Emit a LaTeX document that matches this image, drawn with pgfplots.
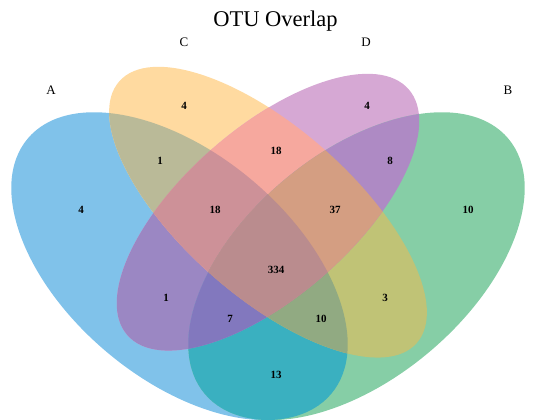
\documentclass[border=0pt]{standalone}
\usepackage{pgfplots}
\pgfplotsset{compat=1.18}
\usepackage{fontspec}
\setmainfont{Liberation Serif}
\definecolor{cA}{RGB}{128,194,234}
\definecolor{cC}{RGB}{255,218,160}
\definecolor{cD}{RGB}{214,168,212}
\definecolor{cB}{RGB}{134,206,166}
\definecolor{cAC}{RGB}{186,186,152}
\definecolor{cAD}{RGB}{155,135,195}
\definecolor{cAB}{RGB}{58,176,192}
\definecolor{cCD}{RGB}{246,168,158}
\definecolor{cCB}{RGB}{192,195,118}
\definecolor{cDB}{RGB}{174,138,196}
\definecolor{cACD}{RGB}{205,145,152}
\definecolor{cACB}{RGB}{145,170,130}
\definecolor{cADB}{RGB}{130,120,190}
\definecolor{cCDB}{RGB}{212,158,130}
\definecolor{cACDB}{RGB}{186,140,142}
\newcommand\pA{[rotate around={-40.04:(axis cs:179.5,153.8)}] (axis cs:179.5,153.8) ellipse [x radius=198.3pt, y radius=112.5pt]}
\newcommand\pB{[rotate around={40.04:(axis cs:356.5,153.8)}] (axis cs:356.5,153.8) ellipse [x radius=198.3pt, y radius=112.5pt]}
\newcommand\pC{[rotate around={-41.33:(axis cs:268,207.8)}] (axis cs:268,207.8) ellipse [x radius=198.1pt, y radius=84.4pt]}
\newcommand\pD{[rotate around={41.15:(axis cs:268,207.8)}] (axis cs:268,207.8) ellipse [x radius=186.8pt, y radius=84.4pt]}
\pgfplotstableread{
x y lab
81 210 4
184 314 4
367 314 4
468 210 10
160 259 1
276 269 18
390 259 8
215 210 18
335 210 37
276 150 334
166 122 1
385 122 3
230 101 7
321 101 10
276 45 13
}\counts
\pgfplotstableread{
x y lab
51 330 A
184 378 C
366 378 D
508 330 B
}\cats
\begin{document}
\begin{tikzpicture}
\begin{axis}[
  x=1pt, y=1pt,
  xmin=0, xmax=536, ymin=0, ymax=420,
  hide axis,
  clip=true,
]
\path (axis cs:0,0) rectangle (axis cs:536,420);
% singles
\fill[cA] \pA;
\fill[cC] \pC;
\fill[cD] \pD;
\fill[cB] \pB;
% pairs
\begin{scope}\clip \pA; \fill[cAC] \pC; \end{scope}
\begin{scope}\clip \pA; \fill[cAD] \pD; \end{scope}
\begin{scope}\clip \pA; \fill[cAB] \pB; \end{scope}
\begin{scope}\clip \pC; \fill[cCD] \pD; \end{scope}
\begin{scope}\clip \pC; \fill[cCB] \pB; \end{scope}
\begin{scope}\clip \pD; \fill[cDB] \pB; \end{scope}
% triples
\begin{scope}\clip \pA; \clip \pC; \fill[cACD] \pD; \end{scope}
\begin{scope}\clip \pA; \clip \pC; \fill[cACB] \pB; \end{scope}
\begin{scope}\clip \pA; \clip \pD; \fill[cADB] \pB; \end{scope}
\begin{scope}\clip \pC; \clip \pD; \fill[cCDB] \pB; \end{scope}
% quadruple
\begin{scope}\clip \pA; \clip \pC; \clip \pD; \fill[cACDB] \pB; \end{scope}
\addplot[mark=none, draw=none, nodes near coords, point meta=explicit symbolic,
  every node near coord/.style={anchor=center, font=\fontsize{11}{13}\selectfont\bfseries, text=black}]
  table[x=x, y=y, meta=lab] {\counts};
\addplot[mark=none, draw=none, nodes near coords, point meta=explicit symbolic,
  every node near coord/.style={anchor=center, font=\fontsize{13}{15}\selectfont, text=black}]
  table[x=x, y=y, meta=lab] {\cats};
\node[font=\fontsize{22.5}{26}\selectfont, anchor=center] at (axis cs:275.5,399) {OTU Overlap};
\end{axis}
\end{tikzpicture}
\end{document}
